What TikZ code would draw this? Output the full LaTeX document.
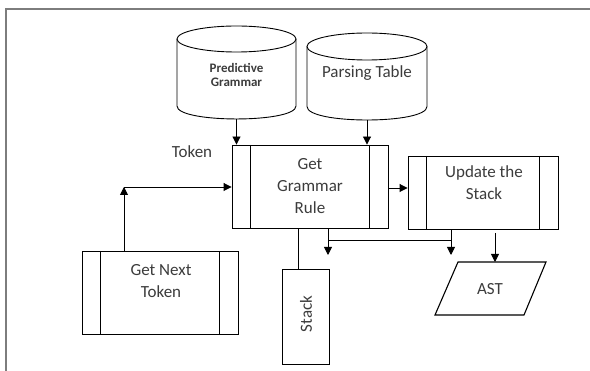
\documentclass[tikz,border=0pt]{standalone}
\usepackage{fontspec}
\setmainfont{Carlito}
\usetikzlibrary{arrows.meta}
\definecolor{txtgray}{RGB}{60,60,60}
\definecolor{framegray}{RGB}{125,125,125}
\tikzset{
  procbox/.style={draw, line width=0.9pt, inner sep=0pt,
    path picture={
      \draw[line width=0.9pt]
        ([xshift=18.5pt]path picture bounding box.north west) -- ([xshift=18.5pt]path picture bounding box.south west)
        ([xshift=-18.5pt]path picture bounding box.north east) -- ([xshift=-18.5pt]path picture bounding box.south east);
    }},
  plainbox/.style={draw, line width=0.9pt, inner sep=0pt},
  lbl/.style={text=txtgray, font=\fontsize{17}{22}\selectfont, align=center, inner sep=0pt},
  smallbold/.style={text=txtgray, font=\bfseries\fontsize{13}{14}\selectfont, align=center, inner sep=0pt},
  arr/.style={line width=0.9pt, -{Triangle[length=8pt,width=8pt]}},
  link/.style={line width=0.9pt},
  drum/.style={line width=0.9pt},
}
\begin{document}
\begin{tikzpicture}[x=1pt,y=-1pt]
\useasboundingbox[fill=white] (0,0) rectangle (590,371);
% outer frame
\draw[framegray, line width=1.6pt] (5.8,390) -- (5.8,9) -- (610,9);

% database drums
\draw[drum] (236.5,39) ellipse [x radius=59.5pt, y radius=13pt];
\draw[drum] (177,39) -- (177,106) .. controls (177,123.3) and (296,123.3) .. (296,106) -- (296,39);
\node[smallbold] (pg) at (236.5,75) {Predictive\\Grammar};
\coordinate (pgbot) at (236.5,119);

\draw[drum] (367,46.5) ellipse [x radius=60pt, y radius=13.5pt];
\draw[drum] (307,46.5) -- (307,106.5) .. controls (307,124.5) and (427,124.5) .. (427,106.5) -- (427,46.5);
\node[lbl] (pt) at (367,73) {Parsing Table};
\coordinate (ptbot) at (367,120);

% process boxes
\node[procbox, minimum width=156pt, minimum height=83pt] (ggr) at (310,186.5) {};
\node[lbl] (ggrtxt) at (310,186) {Get\\Grammar\\Rule};

\node[procbox, minimum width=150pt, minimum height=73pt] (upd) at (483,192.5) {};
\node[lbl] (updtxt) at (484,183) {Update the\\Stack};

\node[procbox, minimum width=156pt, minimum height=83pt] (gnt) at (160,292.5) {};
\node[lbl] (gnttxt) at (161,281) {Get Next\\Token};

\node[plainbox, minimum width=47pt, minimum height=95pt] (stack) at (305.5,316.5) {};
\node[lbl, rotate=90] (stacktxt) at (306,314) {Stack};

% output parallelogram
\coordinate (a1) at (458,262);
\coordinate (a2) at (546,262);
\coordinate (a3) at (524,315);
\coordinate (a4) at (435,315);
\draw[line width=1.1pt] (a1) -- (a2) -- (a3) -- (a4) -- cycle;
\node[lbl] (ast) at (490,289) {AST};

\node[lbl] (tok) at (192,152) {Token};

% connectors
\draw[arr] (pgbot) -- (pgbot |- ggr.north);
\draw[arr] (ptbot) -- (ptbot |- ggr.north);

\coordinate (bend) at (124,187);
\draw[arr] (gnt.north -| bend) -- (bend);
\draw[arr] (bend) -- (bend -| ggr.west);

\coordinate (gy) at (0,188);
\draw[arr] (ggr.east |- gy) -- (upd.west |- gy);

\coordinate (sx) at (298,0);
\draw[link] (ggr.south -| sx) -- (stack.north -| sx);

\coordinate (d1) at (328,255);
\coordinate (d2) at (451,255);
\coordinate (j1) at (328,240);
\coordinate (j2) at (451,240);
\draw[arr] (ggr.south -| d1) -- (d1);
\draw[arr] (upd.south -| d2) -- (d2);
\draw[link] (j1) -- (j2);

\coordinate (as) at (495,233);
\draw[arr] (as) -- (as |- a1);
\end{tikzpicture}
\end{document}
